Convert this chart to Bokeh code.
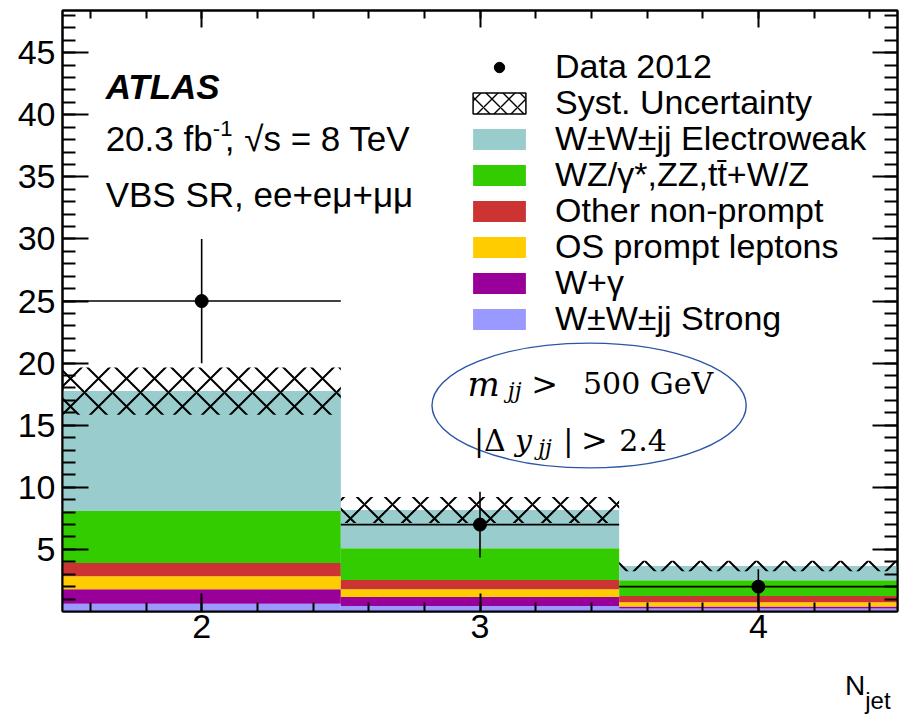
import numpy as np
from bokeh.plotting import figure
from bokeh.layouts import column
from bokeh.models import (Range1d, FixedTicker, LinearAxis, Legend, LegendItem,
                          Label, CustomJSTickFormatter, Div)
from bokeh.embed import file_html
from bokeh.resources import INLINE

# ---- data -----------------------------------------------------------------
njet_centers = [2, 3, 4]
bin_lo = [1.5, 2.5, 3.5]
bin_hi = [2.5, 3.5, 4.5]

# expected yields per process (stacked bottom to top)
ww_strong = [0.63, 0.44, 0.25]
w_gamma = [1.16, 0.73, 0.15]
os_prompt = [1.05, 0.62, 0.35]
other_nonprompt = [1.06, 0.75, 0.50]
wz_zz_ttv = [4.20, 2.55, 1.27]
ww_ewk = [9.65, 3.08, 1.14]

# systematic uncertainty on the total expectation
syst_unc = [1.90, 1.05, 0.42]

# observed events and their statistical errors
data_counts = [25, 7, 2]
data_err = [5.0, 2.65, 1.41]

y_ticks = [5, 10, 15, 20, 25, 30, 35, 40, 45]
x_ticks = [2, 3, 4]

FONT = "Liberation Sans"
SERIF = "DejaVu Serif"

# ---- figure -----------------------------------------------------------------
p = figure(width=900, height=660, x_range=Range1d(1.5, 4.5), y_range=Range1d(0, 48.4),
           output_backend="svg", toolbar_location=None,
           min_border_left=62, min_border_right=3, min_border_top=10, min_border_bottom=49)
p.xgrid.visible = False
p.ygrid.visible = False
p.outline_line_color = "black"
p.outline_line_width = 2
p.background_fill_color = "white"
p.border_fill_color = "white"

x_minor = [float(v) for v in np.round(np.arange(1.6, 4.41, 0.2), 1)]
y_minor = list(range(1, 49))


def style_axis(ax, major_in, minor_in):
    ax.major_tick_in = major_in
    ax.minor_tick_in = minor_in
    ax.major_tick_out = 0
    ax.minor_tick_out = 0
    ax.major_tick_line_width = 2
    ax.minor_tick_line_width = 2
    ax.major_tick_line_color = "black"
    ax.minor_tick_line_color = "black"
    ax.axis_line_width = 2
    ax.axis_line_color = "black"
    ax.major_label_text_font = FONT
    ax.major_label_text_font_size = "34px"
    ax.major_label_text_color = "black"


xax = p.xaxis[0]
xax.ticker = FixedTicker(ticks=x_ticks, minor_ticks=x_minor)
style_axis(xax, 18, 9)
xax.major_label_standoff = 3

yax = p.yaxis[0]
yax.ticker = FixedTicker(ticks=y_ticks, minor_ticks=y_minor)
style_axis(yax, 26, 13)
yax.major_label_standoff = 7

blank = CustomJSTickFormatter(code="return ''")
top_ax = LinearAxis(ticker=FixedTicker(ticks=x_ticks, minor_ticks=x_minor), formatter=blank)
style_axis(top_ax, 17, 8)
top_ax.major_label_text_font_size = "0px"
top_ax.major_label_standoff = 0
p.add_layout(top_ax, "above")

right_ax = LinearAxis(ticker=FixedTicker(ticks=y_ticks, minor_ticks=y_minor), formatter=blank)
style_axis(right_ax, 25, 13)
right_ax.major_label_text_font_size = "0px"
right_ax.major_label_standoff = 0
p.add_layout(right_ax, "right")

# ---- stacked expectation ------------------------------------------------------
layers = [
    ("W\u00b1W\u00b1jj Strong", ww_strong, "#9999FF"),
    ("W+\u03b3", w_gamma, "#990099"),
    ("OS prompt leptons", os_prompt, "#FFCC00"),
    ("Other non-prompt", other_nonprompt, "#CC3333"),
    ("WZ/\u03b3*,ZZ,tt\u0304+W/Z", wz_zz_ttv, "#33CC00"),
    ("W\u00b1W\u00b1jj Electroweak", ww_ewk, "#99CCCC"),
]
stack_bottom = np.zeros(len(njet_centers))
layer_renderers = {}
for name, vals, color in layers:
    stack_top = stack_bottom + np.array(vals)
    r = p.quad(left=bin_lo, right=bin_hi, bottom=stack_bottom, top=stack_top,
               fill_color=color, line_color=None)
    layer_renderers[name] = r
    stack_bottom = stack_top

total = stack_bottom
syst = np.array(syst_unc)
p.quad(left=bin_lo, right=bin_hi, bottom=total - syst, top=total + syst,
       fill_color=None, line_color=None, hatch_pattern="diagonal_cross",
       hatch_color="black", hatch_weight=2, hatch_scale=28)
# outlined hatch swatch, used only by the legend entry (NaN keeps it off the plot)
syst_legend = p.quad(left=[np.nan], right=[np.nan], bottom=[np.nan], top=[np.nan],
                     fill_color=None, line_color="black", line_width=1.5,
                     hatch_pattern="diagonal_cross", hatch_color="black",
                     hatch_weight=1.4, hatch_scale=17)

# ---- data -------------------------------------------------------------------
counts = np.array(data_counts, dtype=float)
errs = np.array(data_err)
p.segment(x0=bin_lo, x1=bin_hi, y0=counts, y1=counts, line_color="black", line_width=1.6)
p.segment(x0=njet_centers, x1=njet_centers, y0=counts - errs, y1=counts + errs,
          line_color="black", line_width=1.6)
data_r = p.scatter(x=njet_centers, y=counts, size=13, marker="circle",
                   fill_color="black", line_color="black")

# ---- legend: one entry per row so the row pitch can be set freely ------------
order = ["W\u00b1W\u00b1jj Electroweak", "WZ/\u03b3*,ZZ,tt\u0304+W/Z", "Other non-prompt",
         "OS prompt leptons", "W+\u03b3", "W\u00b1W\u00b1jj Strong"]
legend_rows = [("Data 2012", data_r), ("Syst. Uncertainty", syst_legend)]
legend_rows += [(n, layer_renderers[n]) for n in order]
ROW_PITCH = 36
for i, (lab, rend) in enumerate(legend_rows):
    lg = Legend(items=[LegendItem(label=lab, renderers=[rend])],
                location=(404, 525 - ROW_PITCH * i), label_text_font=FONT,
                label_text_font_size="34px", label_text_color="black",
                glyph_width=66, glyph_height=26, label_standoff=23,
                spacing=0, padding=0, margin=0,
                border_line_color=None, background_fill_alpha=0)
    p.add_layout(lg)

# ---- annotations --------------------------------------------------------------
def label(x, y, text, size="35px", font=FONT, style="normal", align="left"):
    p.add_layout(Label(x=x, y=y, text=text, text_font=font, text_font_size=size,
                       text_font_style=style, text_baseline="alphabetic",
                       text_align=align, text_color="black"))


label(1.655, 42.31, "ATLAS", style="bold italic")
label(1.655, 38.12, "20.3 fb")
label(2.040, 38.93, "-1", size="22px")
label(2.083, 38.12, ", \u221as = 8 TeV")
label(1.655, 33.60, "VBS SR, ee+e\u03bc+\u03bc\u03bc")

# selection cuts inside an ellipse
p.ellipse(x=[3.392], y=[16.59], width=[1.129], height=[10.06],
          fill_color=None, line_color="#2b55a5", line_width=1.4)
label(2.955, 18.34, "m", size="34px", font=SERIF, style="italic")
label(3.100, 17.83, "jj", size="22px", font=SERIF, style="italic")
label(3.184, 18.34, ">", size="32px", font=SERIF)
label(3.370, 18.34, "500 GeV", size="30px", font=SERIF)
label(2.978, 13.78, "|\u0394", size="30px", font=SERIF)
label(3.126, 13.78, "y", size="30px", font=SERIF, style="italic")
label(3.209, 13.24, "jj", size="22px", font=SERIF, style="italic")
label(3.299, 13.78, "|", size="30px", font=SERIF)
label(3.363, 13.78, ">", size="32px", font=SERIF)
label(3.500, 13.78, "2.4", size="30px", font=SERIF)

# x-axis title under the right end of the frame
title = Div(
    text=('<div style="font-family:\'Liberation Sans\';font-size:28px;line-height:28px;'
          'color:black;white-space:nowrap;padding-top:12px;padding-left:845px;">'
          'N<span style="font-size:24px;position:relative;top:14px;">jet</span></div>'),
    width=900, height=55, margin=0)

layout = column(p, title, spacing=0)
open("out.html", "w").write(file_html(layout, INLINE))
